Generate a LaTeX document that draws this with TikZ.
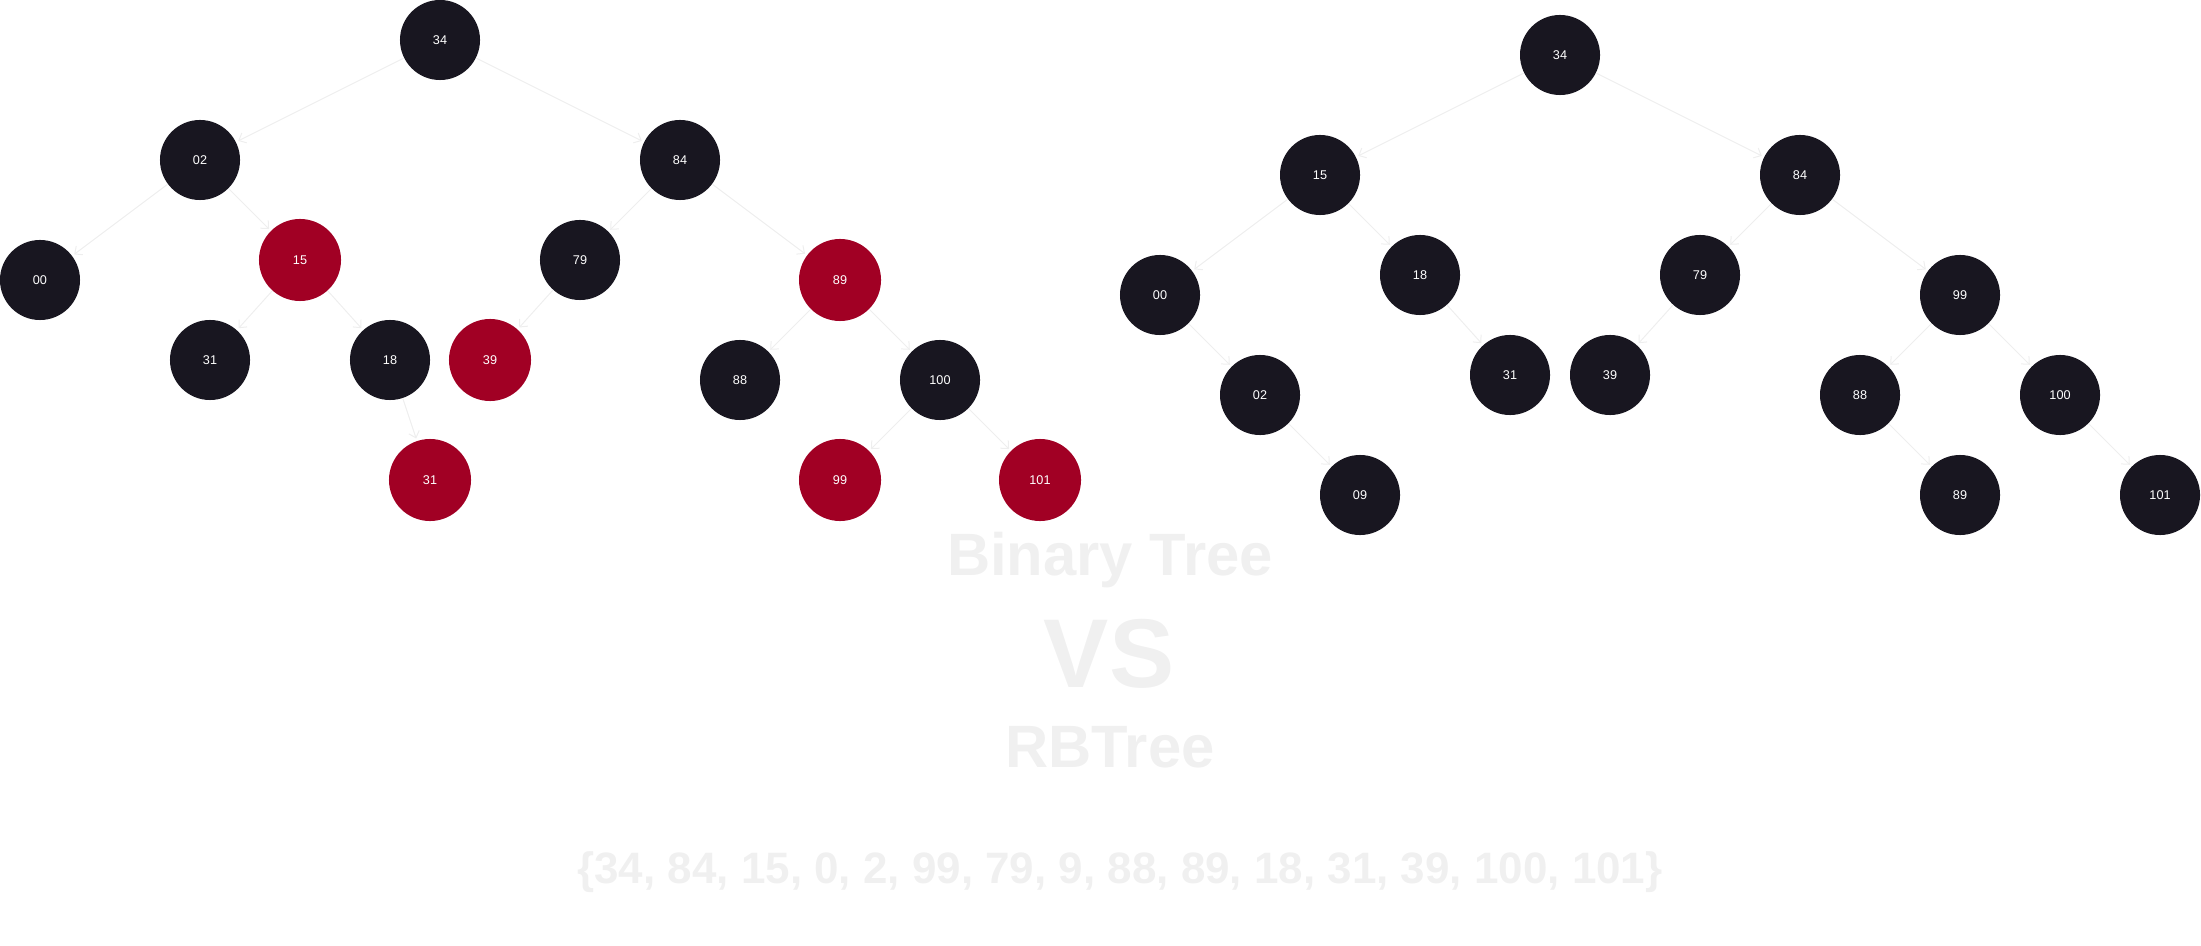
\documentclass[tikz,border=0pt]{standalone}
\usepackage{fontspec}
\setmainfont{Liberation Sans}
\usetikzlibrary{arrows.meta}

\definecolor{nodedark}{RGB}{24,22,32}
\definecolor{nodered}{RGB}{161,0,36}
\definecolor{edgegray}{RGB}{238,238,238}
\definecolor{titlegray}{RGB}{240,240,240}

\begin{document}
\begin{tikzpicture}[
    x=0.01cm, y=-0.01cm,
    blacknode/.style={circle, fill=nodedark, text=white, minimum size=0.8cm, inner sep=0pt, font=\fontsize{3.6}{4}\selectfont},
    rednode/.style={blacknode, fill=nodered, minimum size=0.82cm},
    edge/.style={draw=edgegray, line width=0.01cm, -{Straight Barb[length=0.06cm, width=0.11cm]}, shorten >=0.02cm},
    title/.style={anchor=base, text=titlegray, font=\bfseries\fontsize{17}{18}\selectfont},
]
\useasboundingbox (0,0) rectangle (2201,946);

% Left tree
\node[blacknode] (l34) at (440,40) {34};
\node[blacknode] (l02) at (200,160) {02};
\node[blacknode] (l84) at (680,160) {84};
\node[blacknode] (l00) at (40,280) {00};
\node[rednode]   (l15) at (300,260) {15};
\node[blacknode] (l79) at (580,260) {79};
\node[rednode]   (l89) at (840,280) {89};
\node[blacknode] (l31) at (210,360) {31};
\node[blacknode] (l18) at (390,360) {18};
\node[rednode]   (l39) at (490,360) {39};
\node[blacknode] (l88) at (740,380) {88};
\node[blacknode] (l100) at (940,380) {100};
\node[rednode]   (l31b) at (430,480) {31};
\node[rednode]   (l99) at (840,480) {99};
\node[rednode]   (l101) at (1040,480) {101};

\foreach \a/\b in {l34/l02, l34/l84, l02/l00, l02/l15, l15/l31, l15/l18, l18/l31b,
                   l84/l79, l84/l89, l79/l39, l89/l88, l89/l100, l100/l99, l100/l101}
    \draw[edge] (\a) -- (\b);

% Right tree
\node[blacknode] (r34) at (1560,55) {34};
\node[blacknode] (r15) at (1320,175) {15};
\node[blacknode] (r84) at (1800,175) {84};
\node[blacknode] (r00) at (1160,295) {00};
\node[blacknode] (r18) at (1420,275) {18};
\node[blacknode] (r79) at (1700,275) {79};
\node[blacknode] (r99) at (1960,295) {99};
\node[blacknode] (r02) at (1260,395) {02};
\node[blacknode] (r31) at (1510,375) {31};
\node[blacknode] (r39) at (1610,375) {39};
\node[blacknode] (r88) at (1860,395) {88};
\node[blacknode] (r100) at (2060,395) {100};
\node[blacknode] (r09) at (1360,495) {09};
\node[blacknode] (r89) at (1960,495) {89};
\node[blacknode] (r101) at (2160,495) {101};

\foreach \a/\b in {r34/r15, r34/r84, r15/r00, r15/r18, r00/r02, r02/r09, r18/r31,
                   r84/r79, r84/r99, r79/r39, r99/r88, r99/r100, r88/r89, r100/r101}
    \draw[edge] (\a) -- (\b);

% Titles
\node[title] (bintitle) at (1110,575) {Binary Tree};
\node[title, font=\bfseries\fontsize{27.8}{30}\selectfont] (vstitle) at (1109,687) {VS};
\node[title] (rbtitle) at (1110,767) {RBTree};
\node[title, font=\bfseries\fontsize{12.5}{14}\selectfont] (keyset) at (1120,883)
    {\{34, 84, 15, 0, 2, 99, 79, 9, 88, 89, 18, 31, 39, 100, 101\}};

\end{tikzpicture}
\end{document}
